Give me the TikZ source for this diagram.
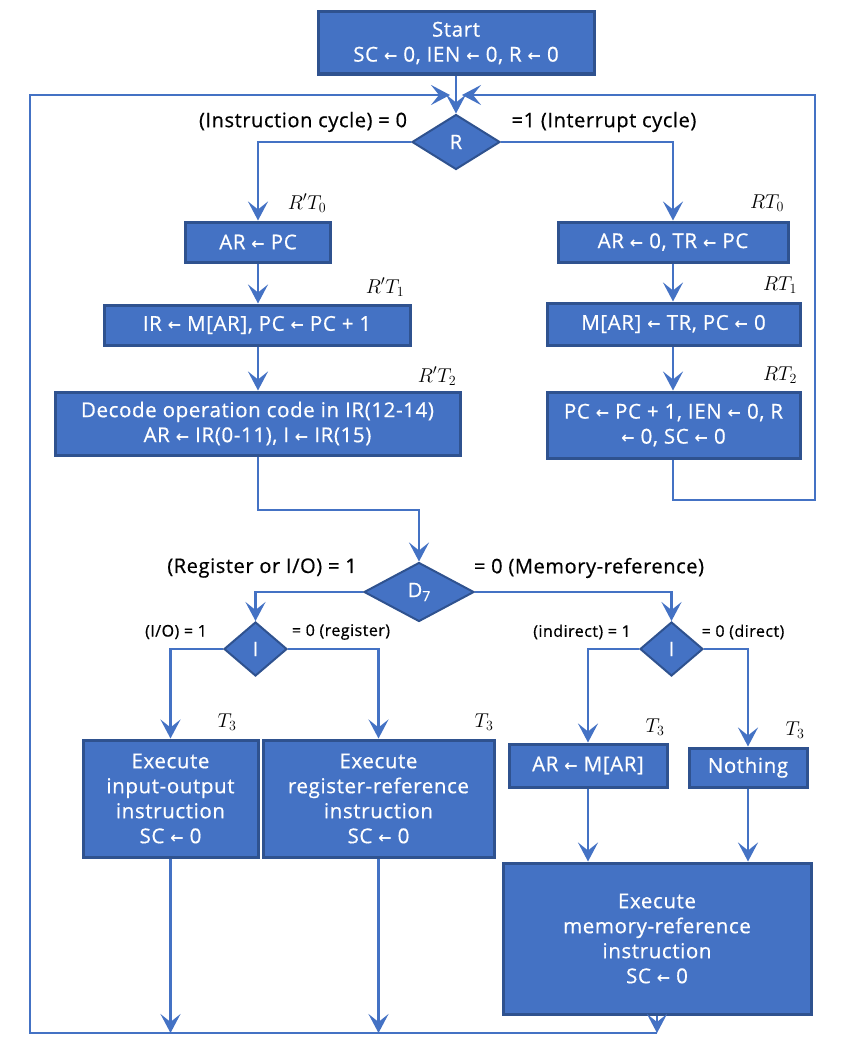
\RequirePackage{fix-cm}
\documentclass[tikz,border=0pt]{standalone}
\usepackage{fontspec}
\setmainfont{Open Sans}[FakeBold=0.6,LetterSpace=3]
\newfontfamily\symf{DejaVu Sans Bold}
\usetikzlibrary{shapes.geometric,arrows.meta,calc}
\definecolor{fillc}{RGB}{68,114,196}
\definecolor{bordc}{RGB}{47,82,143}
\definecolor{linec}{RGB}{68,114,196}
\newcommand\lar{{\symf\fontsize{16}{16}\selectfont ←}}
\newcommand\sub[1]{\raisebox{-4pt}{\fontsize{14}{14}\selectfont #1}}
\tikzset{
  box/.style={rectangle,draw=bordc,fill=fillc,line width=3pt,text=white,align=center,inner sep=0pt,
    font=\fontsize{20.5}{25}\selectfont},
  dia/.style={diamond,draw=bordc,fill=fillc,line width=2pt,text=white,inner sep=0pt,
    font=\fontsize{20}{20}\selectfont},
  lbl/.style={inner sep=0pt,font=\fontsize{20}{20}\selectfont},
  slbl/.style={inner sep=0pt,font=\fontsize{16}{16}\selectfont},
  tl/.style={inner sep=0pt,font=\fontsize{20}{20}\selectfont},
  line/.style={draw=linec,line width=2.5pt},
  conn/.style={line,-{Stealth[length=19pt,width=20pt,inset=8pt]}},
}
\begin{document}
\begin{tikzpicture}[x=1pt,y=-1pt]
\useasboundingbox (0,0) rectangle (856,1049);
% top
\node[box,minimum width=276pt,minimum height=62pt] (start) at (456,43) {Start\\SC \lar{} 0, IEN \lar{} 0, R \lar{} 0};
\node[dia,minimum width=88pt,minimum height=55pt] (R) at (456,142) {R};
\node[lbl] (l0) at (303,122) {(Instruction cycle) = 0};
\node[lbl] (l1) at (604,122) {=1 (Interrupt cycle)};
% left column
\node[box,minimum width=145pt,minimum height=40pt] (b1) at (258,242) {AR \lar{} PC};
\node[box,minimum width=306pt,minimum height=40pt] (b2) at (257,325) {IR \lar{} M[AR], PC \lar{} PC + 1};
\node[box,minimum width=405pt,minimum height=63pt] (b3) at (257.5,423.5) {Decode operation code in IR(12-14)\\AR \lar{} IR(0-11), I \lar{} IR(15)};
\node[tl] (t0) at (307,203) {$R'T_0$};
\node[tl] (t1) at (385,287) {$R'T_1$};
\node[tl] (t2) at (437,376) {$R'T_2$};
% right column
\node[box,minimum width=230pt,minimum height=40pt] (r1) at (673,242) {AR \lar{} 0, TR \lar{} PC};
\node[box,minimum width=253pt,minimum height=42pt] (r2) at (673.5,324) {M[AR] \lar{} TR, PC \lar{} 0};
\node[box,minimum width=253pt,minimum height=66pt] (r3) at (673.5,425) {PC \lar{} PC + 1, IEN \lar{} 0, R\\\lar{} 0, SC \lar{} 0};
\node[tl] (s0) at (767,203) {$RT_0$};
\node[tl] (s1) at (780,285) {$RT_1$};
\node[tl] (s2) at (780,375) {$RT_2$};
% D7
\node[dia,minimum width=110pt,minimum height=59pt] (D) at (419,592) {D\sub{7}};
\node[lbl] (d0) at (262,568) {(Register or I/O) = 1};
\node[lbl] (d1) at (589,568) {= 0 (Memory-reference)};
\node[dia,minimum width=63pt,minimum height=54pt] (I1) at (255.5,649) {I};
\node[dia,minimum width=63pt,minimum height=54pt] (I2) at (671.5,649) {I};
\node[slbl] (i10) at (176,632) {(I/O) = 1};
\node[slbl] (i11) at (341,632) {= 0 (register)};
\node[slbl] (i20) at (582,632) {(indirect) = 1};
\node[slbl] (i21) at (743,632) {= 0 (direct)};
% bottom boxes
\node[box,minimum width=175pt,minimum height=117pt] (io) at (170.5,798.5) {Execute\\input-output\\instruction\\SC \lar{} 0};
\node[box,minimum width=231pt,minimum height=117pt] (rr) at (378.5,798.5) {Execute\\register-reference\\instruction\\SC \lar{} 0};
\node[box,minimum width=158pt,minimum height=43pt] (ind) at (588,765.5) {AR \lar{} M[AR]};
\node[box,minimum width=118pt,minimum height=39pt] (dir) at (748,767.5) {Nothing};
\node[box,minimum width=308pt,minimum height=151pt] (mr) at (657,938.5) {Execute\\memory-reference\\instruction\\SC \lar{} 0};
\node[tl] (u0) at (227,722) {$T_3$};
\node[tl] (u1) at (484,722) {$T_3$};
\node[tl] (u2) at (655,727) {$T_3$};
\node[tl] (u3) at (795,730) {$T_3$};
% coordinates
\coordinate (jl) at (450,95);
\coordinate (jr) at (462,95);
\coordinate (rt) at (815,500);
\coordinate (bl) at (30,1033);
\coordinate (br) at (657,1033);
\coordinate (mid) at (258,510);
% connectors
\draw[conn] (start.south) -- (R.north);
\draw[conn] (R.west) -| (b1.north);
\draw[conn] (R.east) -| (r1.north);
\draw[conn] (b1.south) -- (b1.south |- b2.north);
\draw[conn] (b2.south -| b1.south) -- (b1.south |- b3.north);
\draw[conn] (r1.south) -- (r1.south |- r2.north);
\draw[conn] (r2.south -| r1.south) -- (r1.south |- r3.north);
\draw[conn] (r3.south -| r1.south) |- (rt) |- (jr);
\draw[conn] (b3.south -| b1.south) -- (mid) -| (D.north);
\draw[conn] (D.west) -| (I1.north);
\draw[conn] (D.east) -| (I2.north);
\draw[conn] (I1.west) -| (io.north);
\draw[conn] (I1.east) -| (rr.north);
\draw[conn] (I2.west) -| (ind.north);
\draw[conn] (I2.east) -| (dir.north);
\draw[conn] (ind.south) -- (ind.south |- mr.north);
\draw[conn] (dir.south) -- (dir.south |- mr.north);
\draw[conn] (io.south) -- (io.south |- bl);
\draw[conn] (rr.south) -- (rr.south |- bl);
\draw[conn] (mr.south) -- (br);
\draw[conn] (br) -- (bl) |- (jl);
\end{tikzpicture}
\end{document}
